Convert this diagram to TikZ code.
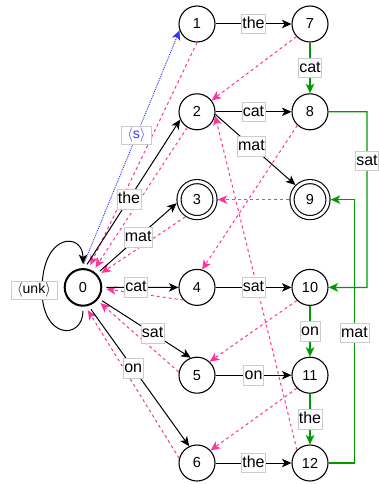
\documentclass[tikz,border=0pt]{standalone}
\usepackage{fontspec}
\setmainfont{Liberation Sans}
\usetikzlibrary{arrows.meta,positioning}

\definecolor{failpink}{HTML}{FF3399}
\definecolor{arcgreen}{HTML}{009900}
\definecolor{sosblue}{HTML}{3333FF}

\tikzset{
  state/.style={circle, draw, line width=1.1pt, minimum size=36pt, inner sep=0pt, font=\fontsize{14.5}{16}\selectfont},
  final/.style={state, double, double distance=3pt, outer sep=2.7pt},
  root/.style={state, line width=2pt, minimum size=36.6pt, outer sep=5.1pt},
  lbl/.style={solid, fill=white, draw=black!20, line width=0.6pt, inner xsep=1pt, inner ysep=2pt, text height=12pt, text depth=3.5pt, font=\fontsize{16}{18}\selectfont, text=black},
  symlbl/.style={lbl, inner xsep=6pt, font=\fontsize{14}{16}\selectfont, text height=10.5pt, text depth=3.5pt},
  tip/.style={-{Stealth[length=9.5pt,width=8.5pt,inset=2.5pt]}},
  trans/.style={tip, line width=1pt},
  wordarc/.style={tip, line width=1.3pt, draw=arcgreen},
  fail/.style={tip, line width=1pt, failpink, dash pattern=on 3pt off 3pt},
  sosarc/.style={tip, line width=0.9pt, sosblue, dash pattern=on 1pt off 1pt},
}

\begin{document}
\begin{tikzpicture}[x=1pt, y=-1pt, node distance=87.8pt]
    \useasboundingbox (0,0) rectangle (379,484);

    % states
    \node (n0) [root] at (83,287.4) {0};
    \node (n1) [state] at (197,24) {1};
    \node (n2) [state, below of=n1] {2};
    \node (n3) [final, below of=n2] {3};
    \node (n4) [state, below of=n3] {4};
    \node (n5) [state, below of=n4] {5};
    \node (n6) [state, below of=n5] {6};
    \node (n7) [state, right of=n1, node distance=113pt] {7};
    \node (n8) [state, below of=n7] {8};
    \node (n9) [final, below of=n8] {9};
    \node (n10) [state, below of=n9] {10};
    \node (n11) [state, below of=n10] {11};
    \node (n12) [state, below of=n11] {12};

    % corners of the long green arcs
    \coordinate (c8) at (367,111.8);
    \coordinate (c10) at (367,287.4);
    \coordinate (c12) at (354.5,463);

    % failure arcs
    \draw[fail] (n1.270) -- (n0.72);
    \draw[fail] (n2.238) -- (n0.58);
    \draw[fail] (n3.236) -- (n0.38);
    \draw[fail] (n4.223) -- (n0.-4);
    \draw[fail] (n5.170) -- (n0.-42);
    \draw[fail] (n6.165) -- (n0.-78);
    \draw[fail] (n7.223) -- (n2.38);
    \draw[fail] (n8.227) -- (n4.74);
    \draw[fail] (n9) -- (n3);
    \draw[fail] (n10.225) -- (n5.47);
    \draw[fail] (n11.225) -- (n6.43);
    \draw[fail] (n12.135) -- (n2.-12);

    % start symbol
    \draw[sosarc] (n0.88) -- node[symlbl, text=sosblue, pos=0.55] {$\langle$s$\rangle$} (n1.200);

    % word arcs
    \draw[trans] (n0.80) -- node[lbl, pos=0.45] {the} (n2.205);
    \draw[trans] (n0.44) -- node[lbl] {mat} (n3.190);
    \draw[trans] (n0) -- node[lbl, pos=0.41] {cat} (n4);
    \draw[trans] (n0.-35) -- node[lbl, pos=0.57] {sat} (n5.110);
    \draw[trans] (n0.-70) -- node[lbl, pos=0.43] {on} (n6.115);
    \draw[trans] (n1) -- node[lbl] {the} (n7);
    \draw[trans] (n2) -- node[lbl] {cat} (n8);
    \draw[trans] (n2.-8) -- node[lbl, pos=0.45] {mat} (n9.135);
    \draw[trans] (n4) -- node[lbl] {sat} (n10);
    \draw[trans] (n5) -- node[lbl] {on} (n11);
    \draw[trans] (n6) -- node[lbl] {the} (n12);

    % green arcs
    \draw[wordarc] (n7) -- node[lbl] {cat} (n8);
    \draw[wordarc] (n10) -- node[lbl] {on} (n11);
    \draw[wordarc] (n11) -- node[lbl] {the} (n12);
    \draw[wordarc] (n12.east) -- (c12) |- node[lbl, pos=0.247] {mat} (n9.east);
    \draw[wordarc] (n8.east) -- (c8) -- node[lbl, pos=0.28] {sat} (c10) -- (n10.east);

    % unknown word loop
    \draw[trans] (n0.south) .. controls (83,340) and (42,340) .. (42,290)
        node[symlbl, xshift=-8pt] {$\langle$unk$\rangle$}
        .. controls (42,232) and (83,232) .. (n0.north);
\end{tikzpicture}
\end{document}
